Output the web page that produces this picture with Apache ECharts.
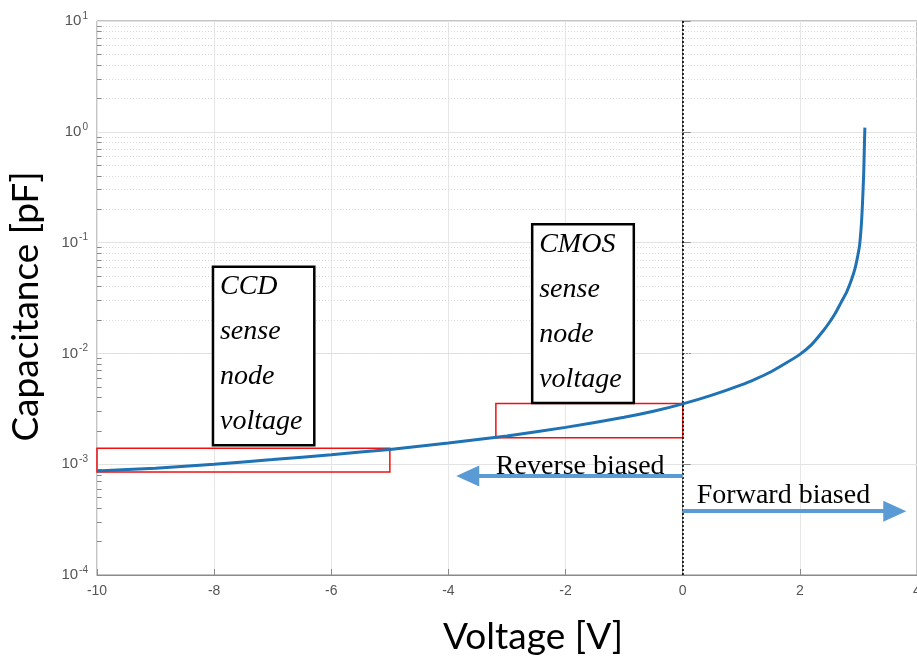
<!DOCTYPE html>
<html>
<head>
<meta charset="utf-8">
<script src="https://cdn.jsdelivr.net/npm/echarts@6/dist/echarts.min.js"></script>
<style>
html,body{margin:0;padding:0;background:#fff;}
#chart{width:917px;height:658px;}
</style>
</head>
<body>
<div id="chart"></div>
<script>
// Voltage [V] and capacitance [pF]
const voltage = [-10, -9, -8, -7, -6, -5, -4, -3, -2, -1, -0.5, 0, 0.5, 1, 1.25, 1.5, 1.75, 2.0, 2.2, 2.4, 2.5, 2.6, 2.7, 2.8, 2.88, 2.94, 2.98, 3.02, 3.05, 3.07, 3.09, 3.1, 3.11];
const capacitance = [8.7e-4, 9.2e-4, 1.0e-3, 1.1e-3, 1.22e-3, 1.36e-3, 1.55e-3, 1.8e-3, 2.15e-3, 2.65e-3, 3.0e-3, 3.5e-3, 4.2e-3, 5.2e-3, 5.9e-3, 6.8e-3, 8.1e-3, 9.8e-3, 1.2e-2, 1.6e-2, 1.89e-2, 2.28e-2, 2.86e-2, 3.6e-2, 4.6e-2, 5.8e-2, 7.2e-2, 9.5e-2, 0.145, 0.23, 0.42, 0.69, 1.09];

const xTicks = [-10, -8, -6, -4, -2, 0, 2, 4];
const yDecades = [1e-4, 1e-3, 1e-2, 1e-1, 1, 10];
const yMinorTicks = [];
for (let d = -4; d < 1; d++) for (let k = 2; k <= 9; k++) yMinorTicks.push(k * Math.pow(10, d));

// annotation regions [x0, x1, yTop, yBottom]
const ccdRange = [-10, -5, 1.39e-3, 8.5e-4];
const cmosRange = [-3.19, 0, 3.53e-3, 1.73e-3];
const ccdBox = [-8.02, -6.29, 0.0604, 1.48e-3];
const cmosBox = [-2.57, -0.835, 0.1466, 3.57e-3];
const ccdLines = ['CCD', 'sense', 'node', 'voltage'];
const cmosLines = ['CMOS', 'sense', 'node', 'voltage'];
const reverseArrow = [0, -3.67, 7.84e-4];
const forwardArrow = [0, 3.62, 3.77e-4];
const reverseLabel = ['Reverse biased', -3.19, 9.5e-4];
const forwardLabel = ['Forward biased', 0.24, 5.25e-4];

const chart = echarts.init(document.getElementById('chart'));
const option = {
  animation: false,
  grid: { left: 97, right: 0, top: 21, bottom: 83, outerBoundsMode: 'none', containLabel: false, show: true, borderColor: '#8a8a8a', borderWidth: 1, backgroundColor: '#fff' },
  xAxis: {
    type: 'value', min: -10, max: 4, interval: 2,
    axisLine: { onZero: false, lineStyle: { color: '#8a8a8a' } },
    axisTick: { inside: true, length: 6, lineStyle: { color: '#8a8a8a' } },
    axisLabel: { color: '#555', fontSize: 14, margin: 9, fontFamily: 'Liberation Sans', formatter: v => String(v) },
    splitLine: { show: true, lineStyle: { color: '#e6e6e6' } },
    name: 'Voltage [V]', nameLocation: 'middle', nameGap: 44,
    nameTextStyle: { fontFamily: 'Lato', fontSize: 37, color: '#000', padding: [0, 0, 0, 52] }
  },
  yAxis: {
    type: 'log', logBase: 10, min: 1e-4, max: 10,
    axisLine: { lineStyle: { color: '#8a8a8a' } },
    axisTick: { inside: true, length: 8, lineStyle: { color: '#8a8a8a' } },
    axisLabel: {
      margin: 9, fontFamily: 'Liberation Sans', color: '#555',
      formatter: v => '{b|10}{s|' + Math.round(Math.log10(v)) + '}',
      rich: {
        b: { fontSize: 15, color: '#555', fontFamily: 'Liberation Sans' },
        s: { fontSize: 10, color: '#555', fontFamily: 'Liberation Sans', padding: [0, 0, 10, 1] }
      }
    },
    splitLine: { show: true, lineStyle: { color: '#e3e3e3' } },
    name: 'Capacitance [pF]', nameLocation: 'middle', nameGap: 52, nameRotate: 90,
    nameTextStyle: { fontFamily: 'Lato', fontSize: 37, color: '#000', padding: [0, 17, 0, 0] }
  },
  series: [
    {
      type: 'line', silent: true, data: [], symbol: 'none',
      markLine: {
        silent: true, symbol: 'none', animation: false,
        label: { show: false },
        lineStyle: { color: '#dadada', type: [1, 2], width: 1 },
        data: yMinorTicks.map(v => ({ yAxis: v }))
      }
    },
    {
      type: 'line', silent: true, data: [], symbol: 'none',
      markLine: {
        silent: true, symbol: 'none', animation: false,
        label: { show: false },
        lineStyle: { color: '#8a8a8a', type: 'solid', width: 1 },
        data: yMinorTicks.map(v => [{ coord: [-10, v] }, { coord: [-9.92, v] }])
      }
    },
    {
      type: 'line', name: 'C',
      data: voltage.map((v, i) => [v, capacitance[i]]),
      smooth: 0.2, showSymbol: false, symbol: 'none',
      lineStyle: { color: '#1F72B4', width: 3 },
      z: 5,
      markLine: {
        silent: true, animation: false, label: { show: false },
        data: [
          [{ coord: [0, 1e-4], symbol: 'none' }, { coord: [0, 10], symbol: 'none', lineStyle: { color: '#000', type: [2, 2], width: 1.6 } }],
          [{ coord: [reverseArrow[0], reverseArrow[2]], symbol: 'none' },
           { coord: [reverseArrow[1], reverseArrow[2]], symbol: 'triangle', symbolSize: [21, 23], lineStyle: { color: '#5B9BD5', width: 4, type: 'solid' } }],
          [{ coord: [forwardArrow[0], forwardArrow[2]], symbol: 'none' },
           { coord: [forwardArrow[1], forwardArrow[2]], symbol: 'triangle', symbolSize: [21, 23], lineStyle: { color: '#5B9BD5', width: 4, type: 'solid' } }]
        ],
        itemStyle: { color: '#5B9BD5' }
      },
      markArea: {
        silent: true,
        itemStyle: { color: 'rgba(0,0,0,0)', borderColor: '#f01010', borderWidth: 1.5 },
        data: [
          [{ coord: [ccdRange[0], ccdRange[2]] }, { coord: [ccdRange[1], ccdRange[3]] }],
          [{ coord: [cmosRange[0], cmosRange[2]] }, { coord: [cmosRange[1], cmosRange[3]] }]
        ]
      }
    }
  ]
};
chart.setOption(option);

function boxGraphics(box, lines) {
  const p0 = chart.convertToPixel({ gridIndex: 0 }, [box[0], box[2]]);
  const p1 = chart.convertToPixel({ gridIndex: 0 }, [box[1], box[3]]);
  const els = [{
    type: 'rect', z: 100,
    shape: { x: p0[0], y: p0[1], width: p1[0] - p0[0], height: p1[1] - p0[1] },
    style: { fill: '#fff', stroke: '#000', lineWidth: 2.5 }
  }];
  lines.forEach((t, i) => {
    els.push({
      type: 'text', z: 101, x: p0[0] + 7, y: p0[1] + 20 + i * 45,
      style: { text: t, font: 'italic 28px "Liberation Serif"', fill: '#000', verticalAlign: 'middle', align: 'left' }
    });
  });
  return els;
}
function labelGraphic(lab) {
  const p = chart.convertToPixel({ gridIndex: 0 }, [lab[1], lab[2]]);
  return {
    type: 'text', z: 101, x: p[0], y: p[1],
    style: { text: lab[0], font: '28px "Liberation Serif"', fill: '#000', verticalAlign: 'middle', align: 'left' }
  };
}
chart.setOption({
  graphic: [].concat(boxGraphics(ccdBox, ccdLines), boxGraphics(cmosBox, cmosLines), [labelGraphic(reverseLabel), labelGraphic(forwardLabel)])
});
</script>
</body>
</html>
